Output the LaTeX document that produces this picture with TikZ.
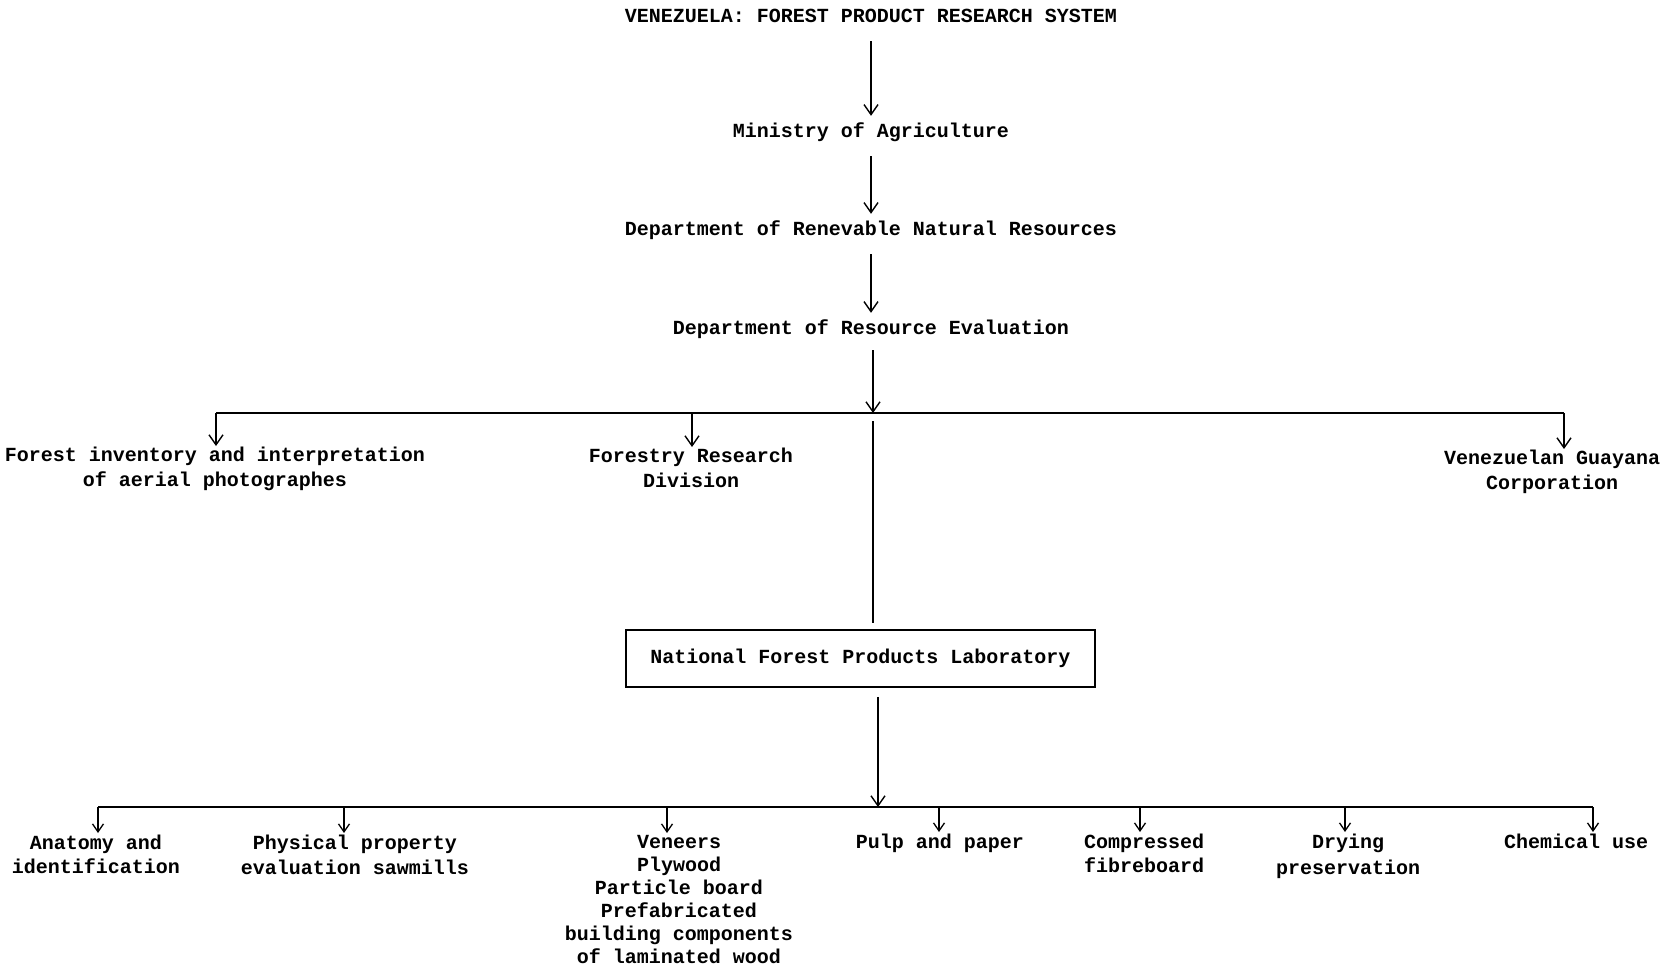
\documentclass[tikz,border=0pt]{standalone}
\usepackage{fontspec}
\setmonofont{Liberation Mono}
\usetikzlibrary{arrows.meta}
\begin{document}
\begin{tikzpicture}[x=1pt,y=-1pt,
  one/.style={font=\ttfamily\bfseries\fontsize{20}{24}\selectfont, inner sep=0pt, text height=15pt, text depth=5pt},
  multi/.style={font=\ttfamily\bfseries\fontsize{20}{#1}\selectfont, inner sep=0pt, align=center, anchor=north},
  multi/.default=24,
  con/.style={line width=1.8pt},
  arr/.style={con, -{Straight Barb[length=10pt,width=14pt,line width=1.4pt]}},
  sarr/.style={con, -{Straight Barb[length=8pt,width=11pt,line width=1.3pt]}},
  down/.style={arr, shorten <=14pt, shorten >=6pt},
  labbox/.style={draw, line width=1.5pt, minimum width=469pt, minimum height=57pt, inner sep=0pt,
    font=\ttfamily\bfseries\fontsize{20}{24}\selectfont}]
\useasboundingbox (0,0) rectangle (1669,972);

% top chain
\node[one] (title) at (871,17) {VENEZUELA: FOREST PRODUCT RESEARCH SYSTEM};
\node[one] (min) at (871,132) {Ministry of Agriculture};
\node[one] (drnr) at (871,230) {Department of Renevable Natural Resources};
\node[one] (dre) at (871,329) {Department of Resource Evaluation};

\draw[down] (title) -- (min);
\draw[down] (min) -- (drnr);
\draw[down] (drnr) -- (dre);

% first bus
\coordinate (j1) at (873,413);
\coordinate (b1l) at (216,413);
\coordinate (b1r) at (1564,413);
\node[multi=25] (fi) at (215,447) {Forest inventory and interpretation\\of aerial photographes};
\node[multi=25] (frd) at (691,448) {Forestry Research\\Division};
\node[multi=25] (vgc) at (1552,450) {Venezuelan Guayana\\Corporation};

\draw[arr, shorten <=11pt] (dre.south -| j1) -- (j1);
\draw[con] (b1l) -- (b1r);
\draw[arr, shorten >=1pt] (b1l) -- (b1l |- fi.north);
\draw[arr, shorten >=1pt] (b1l -| frd) ++(1,0) coordinate (bfrd) (bfrd) -- (bfrd |- frd.north);
\draw[arr, shorten >=1pt] (b1r) -- (b1r |- vgc.north);

% laboratory
\node[labbox] (lab) at (860.5,658.5) {National Forest Products Laboratory};
\draw[con, shorten <=8pt, shorten >=6pt] (j1) -- (j1 |- lab.north);

% second bus
\coordinate (j2) at (878,807);
\coordinate (b2l) at (98,807);
\coordinate (b2r) at (1593,807);
\draw[arr, shorten <=9pt] (lab.south -| j2) -- (j2);
\draw[con] (b2l) -- (b2r);

\node[multi=24] (anat) at (96,835) {Anatomy and\\identification};
\node[multi=25] (phys) at (355,835) {Physical property\\evaluation sawmills};
\node[multi=23] (ven) at (679,835) {Veneers\\Plywood\\Particle board\\Prefabricated\\building components\\of laminated wood};
\node[multi=24] (pulp) at (940,834) {Pulp and paper};
\node[multi=24] (comp) at (1144,834) {Compressed\\fibreboard};
\node[multi=26] (dry) at (1348,834) {Drying\\preservation};
\node[multi=24] (chem) at (1576,834) {Chemical use};

\coordinate (c2) at (344,807);
\coordinate (c3) at (667,807);
\coordinate (c4) at (939,807);
\coordinate (c5) at (1140,807);
\coordinate (c6) at (1345,807);

\draw[sarr, shorten >=2pt] (b2l) -- (b2l |- anat.north);
\draw[sarr, shorten >=2pt] (c2) -- (c2 |- phys.north);
\draw[sarr, shorten >=2pt] (c3) -- (c3 |- ven.north);
\draw[sarr, shorten >=2pt] (c4) -- (c4 |- pulp.north);
\draw[sarr, shorten >=2pt] (c5) -- (c5 |- comp.north);
\draw[sarr, shorten >=2pt] (c6) -- (c6 |- dry.north);
\draw[sarr, shorten >=2pt] (b2r) -- (b2r |- chem.north);
\end{tikzpicture}
\end{document}
